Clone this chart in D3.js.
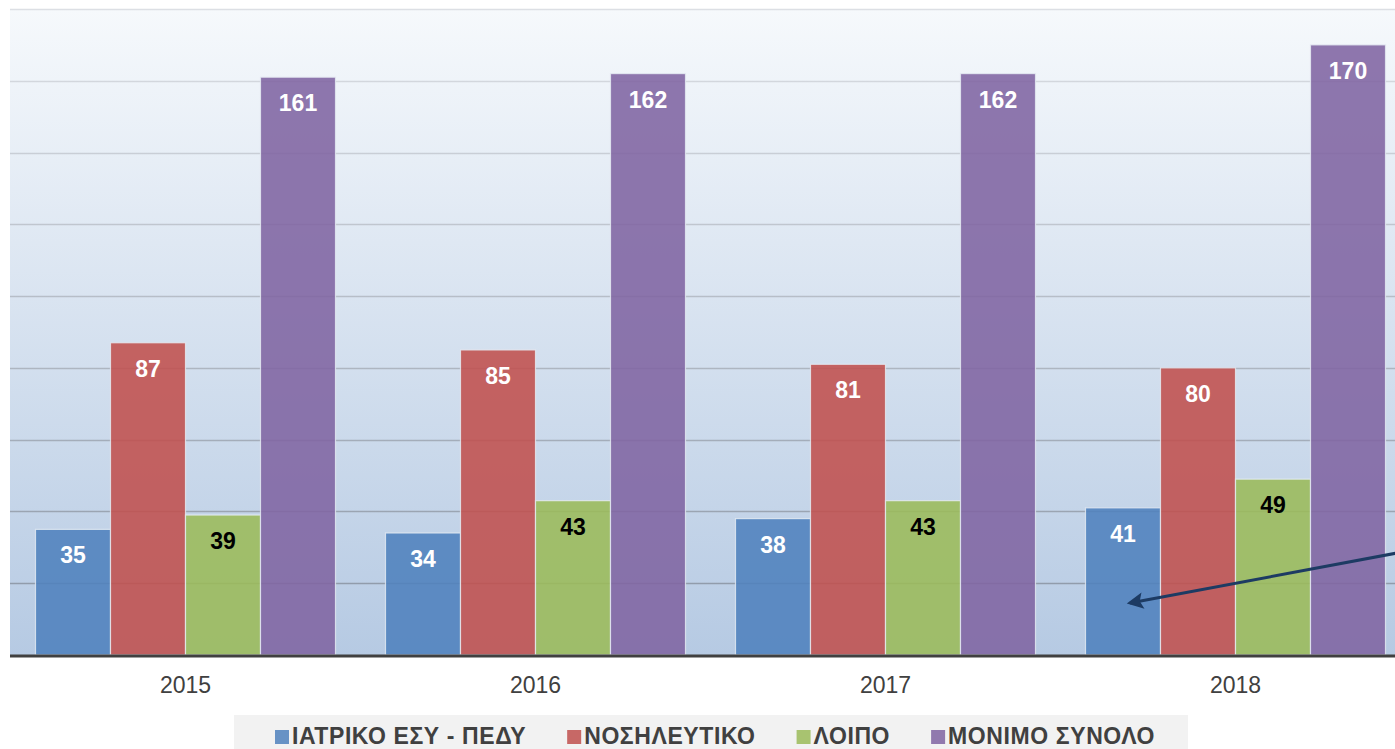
<!DOCTYPE html>
<head>
  <meta charset="utf-8">
  <script src="https://d3js.org/d3.v7.min.js"></script>
  <style>
    body { margin:0; background:#fff; }
    text { font-family: "Liberation Sans", Arial, sans-serif; }
  </style>
</head>
<body>
<div id="figure"></div>
<script>
  var years = ["2015", "2016", "2017", "2018"];
  var seriesNames = ["ΙΑΤΡΙΚΟ ΕΣΥ - ΠΕΔΥ", "ΝΟΣΗΛΕΥΤΙΚΟ", "ΛΟΙΠΟ", "ΜΟΝΙΜΟ ΣΥΝΟΛΟ"];
  var iatriko = [35, 34, 38, 41];
  var nosileftiko = [87, 85, 81, 80];
  var loipo = [39, 43, 43, 49];
  var synolo = [161, 162, 162, 170];
  var gridTicks = [20, 40, 60, 80, 100, 120, 140, 160, 180];
  var colors = ["#4f81bd", "#c0504d", "#9bbb59", "#8064a2"];
  var labelColors = ["#fff", "#fff", "#000", "#fff"];

  var series = [iatriko, nosileftiko, loipo, synolo];

  var W = 1395, H = 749;
  var plotLeft = 10, plotTop = 9, plotBottom = 655;

  var svg = d3.select("#figure").append("svg")
    .attr("width", W).attr("height", H);

  var defs = svg.append("defs");
  var bg = defs.append("linearGradient").attr("id", "bg")
    .attr("x1", 0).attr("y1", 0).attr("x2", 0).attr("y2", 1);
  bg.append("stop").attr("offset", "0%").attr("stop-color", "#f6f9fc");
  bg.append("stop").attr("offset", "100%").attr("stop-color", "#b6cae3");

  var gl = defs.append("linearGradient").attr("id", "grid")
    .attr("gradientUnits", "userSpaceOnUse")
    .attr("x1", 0).attr("y1", plotTop).attr("x2", 0).attr("y2", plotBottom);
  gl.append("stop").attr("offset", "0%").attr("stop-color", "#dcdfe4");
  gl.append("stop").attr("offset", "100%").attr("stop-color", "#8894a4");

  defs.append("marker").attr("id", "arrow")
    .attr("viewBox", "0 0 10 10").attr("refX", 8).attr("refY", 5)
    .attr("markerWidth", 6).attr("markerHeight", 5.5)
    .attr("markerUnits", "strokeWidth")
    .attr("orient", "auto")
    .append("path").attr("d", "M0,0 L10,5 L0,10 L2,5 z").attr("fill", "#1d3b63");

  var x0 = d3.scaleBand().domain(years).range([plotLeft + 0.5, plotLeft + 1400.5])
    .paddingInner(1 / 7).paddingOuter(1 / 14);
  var x1 = d3.scaleBand().domain(d3.range(4)).range([0, x0.bandwidth()]);
  var y = d3.scaleLinear().domain([0, 180]).range([plotBottom, plotTop]);

  svg.append("rect")
    .attr("x", plotLeft).attr("y", plotTop)
    .attr("width", W - plotLeft).attr("height", plotBottom - plotTop)
    .attr("fill", "url(#bg)");

  svg.append("g").selectAll("line").data(gridTicks).enter().append("line")
    .attr("x1", plotLeft).attr("x2", W)
    .attr("y1", function(d) { return Math.round(y(d)) + 0.5; })
    .attr("y2", function(d) { return Math.round(y(d)) + 0.5; })
    .attr("stroke", "url(#grid)")
    .attr("stroke-width", 1.3);

  var groups = svg.append("g").selectAll("g").data(years).enter().append("g")
    .attr("transform", function(d) { return "translate(" + x0(d) + ",0)"; });

  groups.selectAll("rect")
    .data(function(d, i) { return series.map(function(s, k) { return {k: k, v: s[i]}; }); })
    .enter().append("rect")
    .attr("x", function(d) { return x1(d.k); })
    .attr("y", function(d) { return y(d.v); })
    .attr("width", x1.bandwidth())
    .attr("height", function(d) { return plotBottom - y(d.v); })
    .attr("fill", function(d) { return colors[d.k]; })
    .attr("fill-opacity", 0.88)
    .attr("stroke", "#e6ecf4")
    .attr("stroke-opacity", 0.8)
    .attr("stroke-width", 1.2);

  groups.selectAll("text.val")
    .data(function(d, i) { return series.map(function(s, k) { return {k: k, v: s[i]}; }); })
    .enter().append("text")
    .attr("class", "val")
    .attr("x", function(d) { return x1(d.k) + x1.bandwidth() / 2; })
    .attr("y", function(d) { return y(d.v) + 34; })
    .attr("text-anchor", "middle")
    .attr("font-size", 23)
    .attr("font-weight", "bold")
    .attr("fill", function(d) { return labelColors[d.k]; })
    .text(function(d) { return d.v; });

  // baseline
  svg.append("line")
    .attr("x1", plotLeft).attr("x2", W)
    .attr("y1", plotBottom + 1).attr("y2", plotBottom + 1)
    .attr("stroke", "#404040").attr("stroke-width", 3);

  var xAxis = d3.axisBottom(x0).tickSize(0).tickPadding(22);
  var ax = svg.append("g")
    .attr("transform", "translate(0," + plotBottom + ")")
    .call(xAxis);
  ax.select(".domain").remove();
  ax.selectAll("text")
    .attr("font-size", 23)
    .attr("fill", "#404040")
    .style("font-family", "'Liberation Sans', Arial, sans-serif");

  // annotation arrow
  svg.append("line")
    .attr("x1", W + 2).attr("y1", 553)
    .attr("x2", 1130).attr("y2", 603)
    .attr("stroke", "#1d3b63").attr("stroke-width", 3)
    .attr("marker-end", "url(#arrow)");

  // legend
  svg.append("rect")
    .attr("x", 234).attr("y", 715)
    .attr("width", 954).attr("height", 40)
    .attr("fill", "#f2f2f2");

  var legend = svg.append("g");
  var xpos = 0;
  seriesNames.forEach(function(name, k) {
    var g = legend.append("g").attr("transform", "translate(" + xpos + ",0)");
    g.append("rect").attr("x", 0).attr("y", 730).attr("width", 14).attr("height", 14)
      .attr("fill", colors[k]).attr("fill-opacity", 0.85);
    var t = g.append("text").attr("x", 17).attr("y", 744)
      .attr("font-size", 23).attr("font-weight", "bold").attr("fill", "#404040")
      .attr("letter-spacing", 0.6)
      .text(name);
    xpos += 17 + t.node().getComputedTextLength() + 41;
  });
  legend.attr("transform", "translate(275,0)");
</script>
</body>
